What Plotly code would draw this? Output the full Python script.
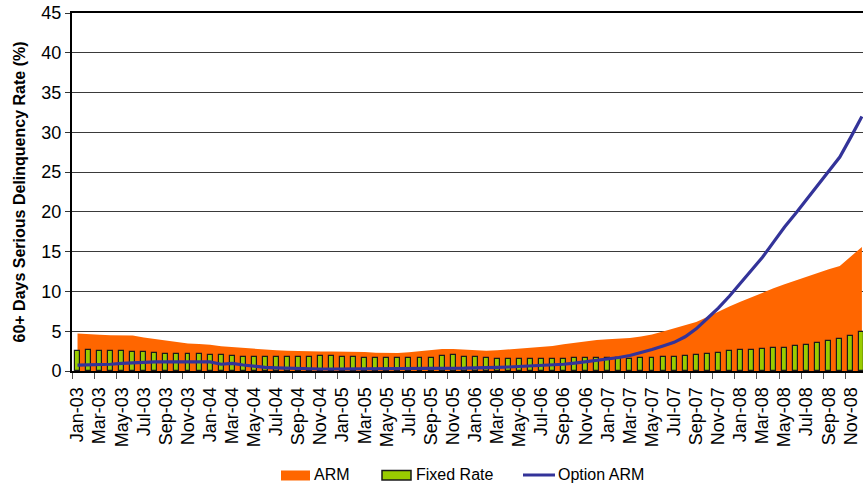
import plotly.graph_objects as go

# Monthly series, Jan-2003 .. Dec-2008 (percent of loans 60+ days delinquent)
months = [f"{m}-{y:02d}" for y in range(3, 9)
          for m in ["Jan", "Feb", "Mar", "Apr", "May", "Jun",
                    "Jul", "Aug", "Sep", "Oct", "Nov", "Dec"]]

arm = [4.70, 4.60, 4.55, 4.50, 4.50, 4.45, 4.20, 4.00, 3.80, 3.60, 3.45, 3.40,
       3.30, 3.10, 3.00, 2.85, 2.75, 2.65, 2.60, 2.55, 2.50, 2.50, 2.45, 2.45,
       2.45, 2.40, 2.40, 2.30, 2.25, 2.25, 2.35, 2.50, 2.65, 2.75, 2.75, 2.70,
       2.65, 2.55, 2.60, 2.70, 2.85, 2.95, 3.05, 3.15, 3.35, 3.55, 3.75, 3.90,
       4.00, 4.05, 4.15, 4.35, 4.60, 4.95, 5.35, 5.75, 6.15, 6.80, 7.50, 8.10,
       8.70, 9.30, 9.90, 10.40, 10.90, 11.40, 11.90, 12.30, 12.80, 13.20, 14.40, 15.60]

fixed_rate = [2.55, 2.60, 2.50, 2.50, 2.50, 2.45, 2.35, 2.25, 2.20, 2.15, 2.15, 2.10,
              2.00, 1.95, 1.85, 1.80, 1.80, 1.80, 1.80, 1.75, 1.80, 1.80, 1.90, 1.85,
              1.80, 1.75, 1.60, 1.60, 1.60, 1.60, 1.65, 1.60, 1.65, 1.90, 1.95, 1.80,
              1.70, 1.60, 1.50, 1.50, 1.45, 1.45, 1.50, 1.55, 1.55, 1.60, 1.60, 1.65,
              1.60, 1.60, 1.55, 1.60, 1.65, 1.70, 1.80, 1.90, 2.05, 2.20, 2.30, 2.50,
              2.60, 2.70, 2.75, 2.85, 2.95, 3.10, 3.25, 3.50, 3.80, 4.00, 4.45, 4.85]

option_arm = [0.75, 0.75, 0.80, 0.85, 0.95, 1.05, 1.10, 1.15, 1.15, 1.15, 1.15, 1.15,
              1.15, 0.85, 0.95, 0.75, 0.55, 0.45, 0.40, 0.35, 0.30, 0.30, 0.25, 0.25,
              0.25, 0.25, 0.25, 0.25, 0.25, 0.25, 0.28, 0.28, 0.28, 0.30, 0.30, 0.35,
              0.40, 0.40, 0.45, 0.50, 0.55, 0.60, 0.65, 0.75, 0.85, 1.00, 1.15, 1.30,
              1.50, 1.70, 1.95, 2.30, 2.70, 3.15, 3.60, 4.30, 5.30, 6.60, 7.90, 9.40,
              11.00, 12.60, 14.30, 16.20, 18.10, 19.80, 21.60, 23.40, 25.10, 26.90, 29.40, 32.00]

y_ticks = [0, 5, 10, 15, 20, 25, 30, 35, 40, 45]

FONT = "Liberation Sans, Arial, sans-serif"
W, H = 863, 484
ML, MR, MT, MB = 72, 0, 13, 113
idx = list(range(len(months)))

ARM_COLOR = "#FF6600"
FIXED_COLOR = "#99CC00"
OPTION_COLOR = "#333399"

fig = go.Figure()

# ARM: filled area on the base subplot (underneath the bars)
fig.add_trace(go.Scatter(
    x=idx, y=arm, name="ARM", mode="lines", fill="tozeroy",
    fillcolor=ARM_COLOR, line=dict(color=ARM_COLOR, width=0),
))

# Fixed rate bars and option ARM line on an overlaid y-axis so they sit on top
fig.add_trace(go.Bar(
    x=idx, y=fixed_rate, name="Fixed Rate", yaxis="y2", width=0.45,
    marker=dict(color=FIXED_COLOR, line=dict(color="#1a1a1a", width=1.2)),
))
fig.add_trace(go.Scatter(
    x=idx, y=option_arm, name="Option ARM", yaxis="y2", mode="lines",
    line=dict(color=OPTION_COLOR, width=3.2),
))

# Legend row drawn in pixel terms, converted to the plot-area paper frame
pw, ph = W - ML - MR, H - MT - MB


def px(xp):
    return (xp - ML) / pw


def py(yp):
    return (H - MB - yp) / ph


legend_y = 475
shapes = [
    dict(type="rect", xref="paper", yref="paper",
         x0=px(281), x1=px(310), y0=py(470.5), y1=py(480.5),
         fillcolor=ARM_COLOR, line=dict(width=0)),
    dict(type="rect", xref="paper", yref="paper",
         x0=px(382), x1=px(411), y0=py(470.5), y1=py(480),
         fillcolor=FIXED_COLOR, line=dict(color="#1a1a1a", width=1.5)),
    dict(type="line", xref="paper", yref="paper",
         x0=px(523), x1=px(555), y0=py(legend_y), y1=py(legend_y),
         line=dict(color=OPTION_COLOR, width=3)),
]
annotations = [
    dict(text=label, x=px(x0), y=py(legend_y), xref="paper", yref="paper",
         xanchor="left", yanchor="middle", showarrow=False,
         font=dict(size=16, family=FONT, color="black"))
    for label, x0 in [("ARM", 312), ("Fixed Rate", 414), ("Option ARM", 556)]
]

fig.update_layout(
    width=W, height=H,
    margin=dict(l=ML, r=MR, t=MT, b=MB),
    paper_bgcolor="white", plot_bgcolor="white",
    font=dict(family=FONT, color="black"),
    showlegend=False,
    shapes=shapes,
    annotations=annotations,
    xaxis=dict(
        range=[-0.5, 71.1], showgrid=False, zeroline=False, automargin=False,
        tickmode="array", tickvals=idx[::2], ticktext=months[::2],
        tickangle=-90, ticks="", tickfont=dict(size=18), ticklabelstandoff=7,
        showline=True, linecolor="black", linewidth=2, mirror=True,
        minor=dict(tickmode="array", tickvals=[i - 0.5 for i in idx[::2]],
                   ticks="outside", ticklen=6, tickcolor="#555555", tickwidth=1),
    ),
    yaxis=dict(
        range=[0, 45], tickmode="array", tickvals=y_ticks,
        showgrid=True, gridcolor="#3a3a3a", gridwidth=1, zeroline=False,
        showline=True, linecolor="black", linewidth=2,
        ticks="outside", ticklen=5, tickcolor="#333333",
        tickfont=dict(size=18), automargin=False,
        title=dict(text="<b>60+ Days Serious Delinquency Rate (%)</b>",
                   font=dict(size=16), standoff=12),
    ),
    yaxis2=dict(range=[0, 45], overlaying="y", visible=False),
    bargap=0,
)

fig.write_html("out.html")
